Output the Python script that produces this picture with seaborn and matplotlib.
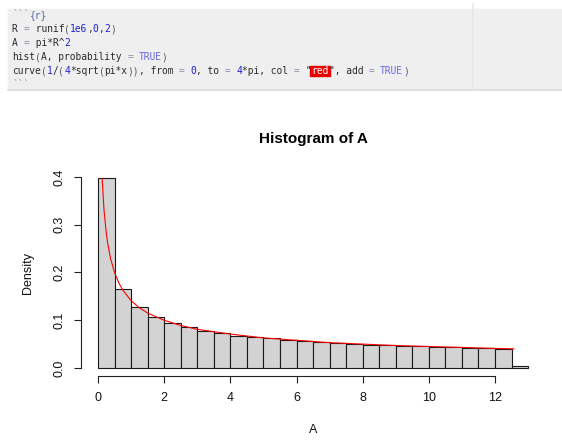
import matplotlib
matplotlib.use("Agg")
import matplotlib.pyplot as plt
from matplotlib.patches import Rectangle
from matplotlib.lines import Line2D
import seaborn as sns
import numpy as np

# histogram of A (bin width 0.5), densities
bin_edges = [0, 0.5, 1, 1.5, 2, 2.5, 3, 3.5, 4, 4.5, 5, 5.5, 6, 6.5,
             7, 7.5, 8, 8.5, 9, 9.5, 10, 10.5, 11, 11.5, 12, 12.5, 13]
density = [0.399, 0.165, 0.127, 0.107, 0.094, 0.085, 0.078, 0.073, 0.068,
           0.065, 0.062, 0.059, 0.056, 0.054, 0.052, 0.051, 0.049, 0.048,
           0.046, 0.045, 0.044, 0.043, 0.042, 0.041, 0.040, 0.005]

# red curve points
curve_x = [0.126, 0.18, 0.25, 0.3, 0.38, 0.5, 0.63, 0.75, 1.0, 1.25, 1.5,
           2, 2.5, 3, 4, 5, 6, 7, 8, 9, 10, 11, 12, 12.57]
curve_y = [0.397, 0.332, 0.282, 0.258, 0.229, 0.200, 0.178, 0.163, 0.141,
           0.126, 0.115, 0.100, 0.089, 0.081, 0.071, 0.063, 0.058, 0.053,
           0.050, 0.047, 0.045, 0.043, 0.041, 0.040]

x_ticks = [0, 2, 4, 6, 8, 10, 12]
y_ticks = [0.0, 0.1, 0.2, 0.3, 0.4]
y_ticklabels = ["0.0", "0.1", "0.2", "0.3", "0.4"]

# code chunk shown above the plot
code_lines = [
    [("```", "tick"), ("{r}", "chunk")],
    [("R ", "txt"), ("=", "op"), (" runif", "txt"), ("(", "par"), ("1e6", "num"),
     (",", "txt"), ("0", "num"), (",", "txt"), ("2", "num"), (")", "par")],
    [("A ", "txt"), ("=", "op"), (" pi*R^", "txt"), ("2", "num")],
    [("hist", "txt"), ("(", "par"), ("A, probability ", "txt"), ("=", "op"),
     (" ", "txt"), ("TRUE", "const"), (")", "par")],
    [("curve", "txt"), ("(", "par"), ("1", "num"), ("/", "txt"), ("(", "par"),
     ("4", "num"), ("*sqrt", "txt"), ("(", "par"), ("pi*x", "txt"), ("))", "par"),
     (", from ", "txt"), ("=", "op"), (" ", "txt"), ("0", "num"), (", to ", "txt"),
     ("=", "op"), (" ", "txt"), ("4", "num"), ("*pi, col ", "txt"), ("=", "op"),
     (' "', "txt"), ("red", "hl"), ('", add ', "txt"), ("=", "op"), (" ", "txt"),
     ("TRUE", "const"), (")", "par")],
    [("```", "tick")],
]
code_colors = {"txt": "#2b2b2b", "op": "#9090a8", "par": "#5a5a70",
               "num": "#1f1fd0", "const": "#6a6ae8", "tick": "#9a9a9a",
               "chunk": "#5a6aa8", "hl": "white"}

W, H = 562, 448
fig = plt.figure(figsize=(W / 100, H / 100), dpi=100)
plt.rcParams['font.family'] = ['Liberation Sans', 'DejaVu Sans']

def fx(px):
    return px / W

def fy(py):
    return 1 - py / H

# grey code box
fig.patches.append(Rectangle((fx(8), fy(90)), fx(W - 8), 81 / H,
                             transform=fig.transFigure, color="#efefef", zorder=0))
fig.lines.append(Line2D([fx(8), 1], [fy(90), fy(90)], transform=fig.transFigure,
                        color="#dcdcdc", lw=1.2))
fig.lines.append(Line2D([fx(473), fx(473)], [fy(4), fy(90)], transform=fig.transFigure,
                        color="#e7e7e7", lw=1.2))

char_w = 5.75
x0 = 12.3
line_y = [15, 29, 43, 57, 71, 85]
for row, toks in enumerate(code_lines):
    col = 0
    for text, kind in toks:
        xp = x0 + col * char_w
        if kind == "hl":
            fig.patches.append(Rectangle((fx(xp - 1), fy(line_y[row] + 4.8)),
                                         fx(len(text) * char_w + 2), 9.5 / H,
                                         transform=fig.transFigure, color="#e80000",
                                         zorder=1))
        fig.text(fx(xp), fy(line_y[row]), text, family="DejaVu Sans Mono",
                 fontsize=6.9, color=code_colors[kind], ha="left", va="center",
                 zorder=2)
        col += len(text)

# plot region (R style: 4% padding around the data range)
left, right, top, bottom = 80.8, 545.3, 169.4, 375.6
ax = fig.add_axes([fx(left), 1 - bottom / H, (right - left) / W, (bottom - top) / H])

sns.histplot(x=bin_edges[:-1], weights=density, bins=bin_edges, stat="count",
             color="#d3d3d3", edgecolor="#1a1a1a", linewidth=0.8, alpha=1, ax=ax)
sns.lineplot(x=curve_x, y=curve_y, color="red", lw=0.8, sort=False,
             estimator=None, ax=ax)

ax.set_xlim(-0.52, 13.52)
ax.set_ylim(-0.016, 0.416)
ax.set_facecolor("none")
for s in ["top", "right"]:
    ax.spines[s].set_visible(False)
ax.spines["left"].set_bounds(0, 0.4)
ax.spines["bottom"].set_bounds(0, 12)
for s in ["left", "bottom"]:
    ax.spines[s].set_linewidth(0.8)
    ax.spines[s].set_color("#222222")

ax.set_xticks(x_ticks)
ax.set_xticklabels([str(t) for t in x_ticks])
ax.set_yticks(y_ticks)
ax.set_yticklabels(y_ticklabels, rotation=90, va="center")
ax.tick_params(direction="out", length=5, width=0.8, color="#222222",
               labelsize=9, labelcolor="#111111")
ax.tick_params(axis="x", pad=7)
ax.tick_params(axis="y", pad=6)

ax.set_xlabel("A", fontsize=9, color="#111111")
ax.xaxis.label.set_va("center")
ax.xaxis.set_label_coords(0.5, (bottom - 430) / (bottom - top))
ax.set_ylabel("Density", fontsize=9, color="#111111")
ax.yaxis.label.set_va("center")
ax.yaxis.set_label_coords((28 - left) / (right - left), 0.5)
ax.set_title("Histogram of A", fontsize=11, fontweight="bold",
             y=(bottom - 139) / (bottom - top), va="center", pad=0)

fig.savefig("out.png", dpi=100)
